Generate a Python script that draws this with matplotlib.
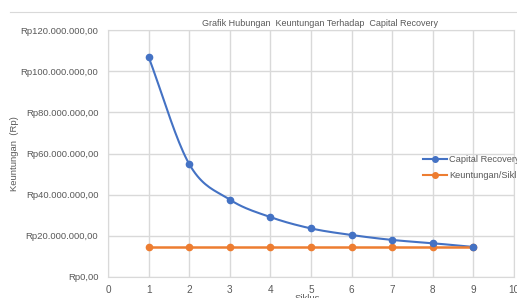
import numpy as np
import matplotlib
matplotlib.use("Agg")
import matplotlib.pyplot as plt
from matplotlib.lines import Line2D

# data
siklus = [1, 2, 3, 4, 5, 6, 7, 8, 9]
capital_recovery = [106900000, 54900000, 37600000, 29100000, 23600000,
                    20400000, 18000000, 16400000, 14600000]
keuntungan = [14600000] * 9
y_ticks = [0, 20000000, 40000000, 60000000, 80000000, 100000000, 120000000]

plt.rcParams['font.family'] = ['Liberation Sans', 'DejaVu Sans']
txt = '#595959'
grid = '#d9d9d9'
blue = '#4472C4'
orange = '#ED7D31'


def rupiah(v):
    s = f"{int(v):,}".replace(",", ".")
    return f"Rp{s},00"


# kurva halus ala excel (catmull-rom)
def smooth(x, y, n=20):
    x = np.asarray(x, float)
    y = np.asarray(y, float)
    px = np.concatenate([[2 * x[0] - x[1]], x, [2 * x[-1] - x[-2]]])
    py = np.concatenate([[2 * y[0] - y[1]], y, [2 * y[-1] - y[-2]]])
    xs, ys = [], []
    for i in range(1, len(px) - 2):
        t = np.linspace(0, 1, n, endpoint=False)
        for arr, out in ((px, xs), (py, ys)):
            p0, p1, p2, p3 = arr[i - 1], arr[i], arr[i + 1], arr[i + 2]
            out.extend(0.5 * (2 * p1 + (-p0 + p2) * t
                              + (2 * p0 - 5 * p1 + 4 * p2 - p3) * t ** 2
                              + (-p0 + 3 * p1 - 3 * p2 + p3) * t ** 3))
    xs.append(x[-1])
    ys.append(y[-1])
    return np.array(xs), np.array(ys)


fig = plt.figure(figsize=(5.17, 2.98), dpi=100)
ax = fig.add_axes([108 / 517, 21 / 298, 406 / 517, 247 / 298])

sx, sy = smooth(siklus, capital_recovery)
ax.plot(sx, sy, color=blue, lw=1.5, zorder=3)
ax.plot(siklus, capital_recovery, 'o', color=blue, ms=4.5, zorder=4)
ax.plot(siklus, keuntungan, '-o', color=orange, lw=1.8, ms=4.5, zorder=3)

ax.set_xlim(0, 10)
ax.set_ylim(0, 120000000)
ax.set_xticks(range(0, 11))
ax.set_yticks(y_ticks)
ax.set_yticklabels([rupiah(v) for v in y_ticks])
ax.tick_params(axis='y', length=0, labelsize=6.8, colors=txt, pad=7)
ax.tick_params(axis='x', length=0, labelsize=7.2, colors=txt, pad=6)
ax.grid(True, color=grid, lw=1)
ax.set_axisbelow(True)
for sp in ax.spines.values():
    sp.set_color(grid)

fig.text(320 / 517, 1 - 24 / 298, 'Grafik Hubungan  Keuntungan Terhadap  Capital Recovery',
         ha='center', va='center', fontsize=6.5, color=txt)
fig.text(15 / 517, 1 - 154 / 298, 'Keuntungan  (Rp)', rotation=90,
         ha='center', va='center', fontsize=6.8, color=txt)
fig.text(307 / 517, 1 - 294 / 298, 'Siklus', ha='center', va='top',
         fontsize=6.8, color=txt)

fig.add_artist(Line2D([10 / 517, 1], [1 - 12 / 298] * 2, color=grid, lw=0.8))

handles = [Line2D([], [], color=blue, marker='o', ms=4, lw=1.5),
           Line2D([], [], color=orange, marker='o', ms=4, lw=1.5)]
fig.legend(handles, ['Capital Recovery', 'Keuntungan/Siklus'],
           loc='upper left', bbox_to_anchor=(423 / 517, 1 - 155 / 298),
           frameon=False, fontsize=6.7, handlelength=2.6, handletextpad=0.2,
           labelspacing=0.75, borderaxespad=0, borderpad=0, labelcolor=txt)

fig.savefig('out.png', dpi=100)
